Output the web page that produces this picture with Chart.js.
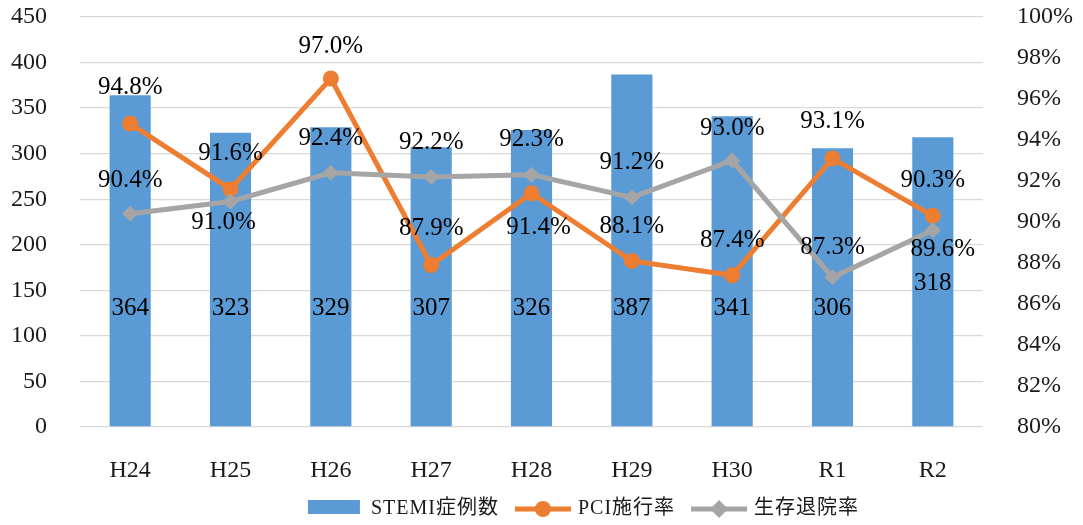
<!DOCTYPE html>
<html>
<head>
<meta charset="utf-8">
<script src="https://cdn.jsdelivr.net/npm/chart.js@4/dist/chart.umd.min.js"></script>
<style>
  html, body { margin: 0; padding: 0; background: #fff; }
  #wrap { width: 1083px; height: 525px; }
</style>
</head>
<body>
<div id="wrap"><canvas id="c" width="1083" height="525"></canvas></div>
<script>
// Fiscal years and yearly figures
const years = ['H24', 'H25', 'H26', 'H27', 'H28', 'H29', 'H30', 'R1', 'R2'];
const stemiCases = [364, 323, 329, 307, 326, 387, 341, 306, 318];
const pciRate = [94.8, 91.6, 97.0, 87.9, 91.4, 88.1, 87.4, 93.1, 90.3];
const survivalRate = [90.4, 91.0, 92.4, 92.2, 92.3, 91.2, 93.0, 87.3, 89.6];

// Axis tick values
const countTicks = [0, 50, 100, 150, 200, 250, 300, 350, 400, 450];
const rateTicks = [80, 82, 84, 86, 88, 90, 92, 94, 96, 98, 100];

// Label placement (pixel shifts from each point / lift above bar base)
const pciLabelShift = [[0, -36], [0, -36], [0, -32], [0, -37], [7, 34], [0, -35], [0, -35], [0, -37], [0, -35]];
const survivalLabelShift = [[0, -33], [-7, 21], [0, -34], [0, -34], [0, -35], [0, -35], [0, -32], [0, -30], [10, 19]];
const countLabelLift = [119, 119, 119, 119, 119, 119, 119, 119, 144];

const SERIF = '"Liberation Serif", "DejaVu Serif", serif';
const LEGEND_FONT = '"Liberation Serif", "Noto Sans CJK JP", serif';
const BLUE = '#5B9BD5', ORANGE = '#ED7D31', GREY = '#A5A5A5';
const TEXT = '#1a1a1a';

const valueLabels = {
  id: 'valueLabels',
  afterDatasetsDraw(chart) {
    const ctx = chart.ctx;
    ctx.save();
    ctx.font = '25px ' + SERIF;
    ctx.fillStyle = '#000';
    ctx.textAlign = 'center';
    ctx.textBaseline = 'middle';
    const base = chart.scales.yCount.getPixelForValue(0);
    chart.getDatasetMeta(2).data.forEach((bar, i) => {
      ctx.fillText(String(stemiCases[i]), bar.x, base - countLabelLift[i]);
    });
    const drawRate = (idx, values, shifts) => {
      chart.getDatasetMeta(idx).data.forEach((pt, i) => {
        ctx.fillText(values[i].toFixed(1) + '%', pt.x + shifts[i][0], pt.y + shifts[i][1]);
      });
    };
    drawRate(1, pciRate, pciLabelShift);
    drawRate(0, survivalRate, survivalLabelShift);
    ctx.restore();
  }
};

const bottomLegend = {
  id: 'bottomLegend',
  afterDraw(chart) {
    const ctx = chart.ctx;
    ctx.save();
    ctx.font = '20px ' + LEGEND_FONT;
    ctx.letterSpacing = '1px';
    ctx.textBaseline = 'middle';
    ctx.fillStyle = TEXT;
    const items = [
      { text: 'STEMI症例数', kind: 'bar', color: BLUE },
      { text: 'PCI施行率', kind: 'circle', color: ORANGE },
      { text: '生存退院率', kind: 'diamond', color: GREY }
    ];
    const sampleW = 56, gapText = 7, gapItem = 16;
    let total = 0;
    items.forEach((it, i) => {
      it.w = ctx.measureText(it.text).width;
      total += sampleW + gapText + it.w + (i < items.length - 1 ? gapItem : 0);
    });
    let x = chart.width / 2 + 42 - total / 2;
    const cy = chart.height - 16;
    items.forEach(it => {
      ctx.fillStyle = it.color;
      ctx.strokeStyle = it.color;
      if (it.kind === 'bar') {
        ctx.fillRect(x, cy - 9, 52, 14);
      } else {
        ctx.lineWidth = 5;
        ctx.beginPath();
        ctx.moveTo(x, cy);
        ctx.lineTo(x + sampleW, cy);
        ctx.stroke();
        const mx = x + sampleW / 2;
        ctx.beginPath();
        if (it.kind === 'circle') {
          ctx.arc(mx, cy, 8, 0, Math.PI * 2);
        } else {
          ctx.moveTo(mx - 9, cy);
          ctx.lineTo(mx, cy - 9);
          ctx.lineTo(mx + 9, cy);
          ctx.lineTo(mx, cy + 9);
          ctx.closePath();
        }
        ctx.fill();
      }
      x += sampleW + gapText;
      ctx.fillStyle = TEXT;
      ctx.fillText(it.text, x, cy);
      x += it.w + gapItem;
    });
    ctx.restore();
  }
};

function fixWidth(w) {
  return s => { s.width = w; s.paddingTop = 0; s.paddingBottom = 0; };
}

new Chart(document.getElementById('c'), {
  type: 'bar',
  data: {
    labels: years,
    datasets: [
      {
        type: 'line', label: '生存退院率', data: survivalRate, yAxisID: 'yRate',
        borderColor: GREY, backgroundColor: GREY, borderWidth: 5,
        pointStyle: 'rectRot', pointRadius: 8, pointBorderWidth: 0,
        tension: 0, order: 1
      },
      {
        type: 'line', label: 'PCI施行率', data: pciRate, yAxisID: 'yRate',
        borderColor: ORANGE, backgroundColor: ORANGE, borderWidth: 5,
        pointStyle: 'circle', pointRadius: 8, pointBorderWidth: 0,
        tension: 0, order: 2
      },
      {
        type: 'bar', label: 'STEMI症例数', data: stemiCases, yAxisID: 'yCount',
        backgroundColor: BLUE, barPercentage: 0.41, categoryPercentage: 1, order: 3
      }
    ]
  },
  options: {
    responsive: false,
    animation: false,
    devicePixelRatio: 1,
    layout: { padding: { top: 17, bottom: 30, left: 0, right: 0 } },
    plugins: { legend: { display: false }, tooltip: { enabled: false } },
    scales: {
      x: {
        grid: { display: false, drawTicks: false },
        border: { display: false },
        ticks: { font: { family: SERIF, size: 24 }, color: TEXT, padding: 29 },
        afterFit(s) { s.height = 68; s.paddingLeft = 0; s.paddingRight = 0; }
      },
      yCount: {
        position: 'left',
        min: countTicks[0], max: countTicks[countTicks.length - 1],
        afterBuildTicks(s) { s.ticks = countTicks.map(v => ({ value: v })); },
        grid: { color: '#d9d9d9', lineWidth: 1.3, drawTicks: false },
        border: { display: false },
        ticks: { font: { family: SERIF, size: 24 }, color: TEXT, padding: 33 },
        afterFit: fixWidth(80)
      },
      yRate: {
        position: 'right',
        min: rateTicks[0], max: rateTicks[rateTicks.length - 1],
        afterBuildTicks(s) { s.ticks = rateTicks.map(v => ({ value: v })); },
        grid: { display: false, drawTicks: false },
        border: { display: false },
        ticks: { font: { family: SERIF, size: 24 }, color: TEXT, padding: 34, callback: v => v + '%' },
        afterFit: fixWidth(100)
      }
    }
  },
  plugins: [valueLabels, bottomLegend]
});
</script>
</body>
</html>
